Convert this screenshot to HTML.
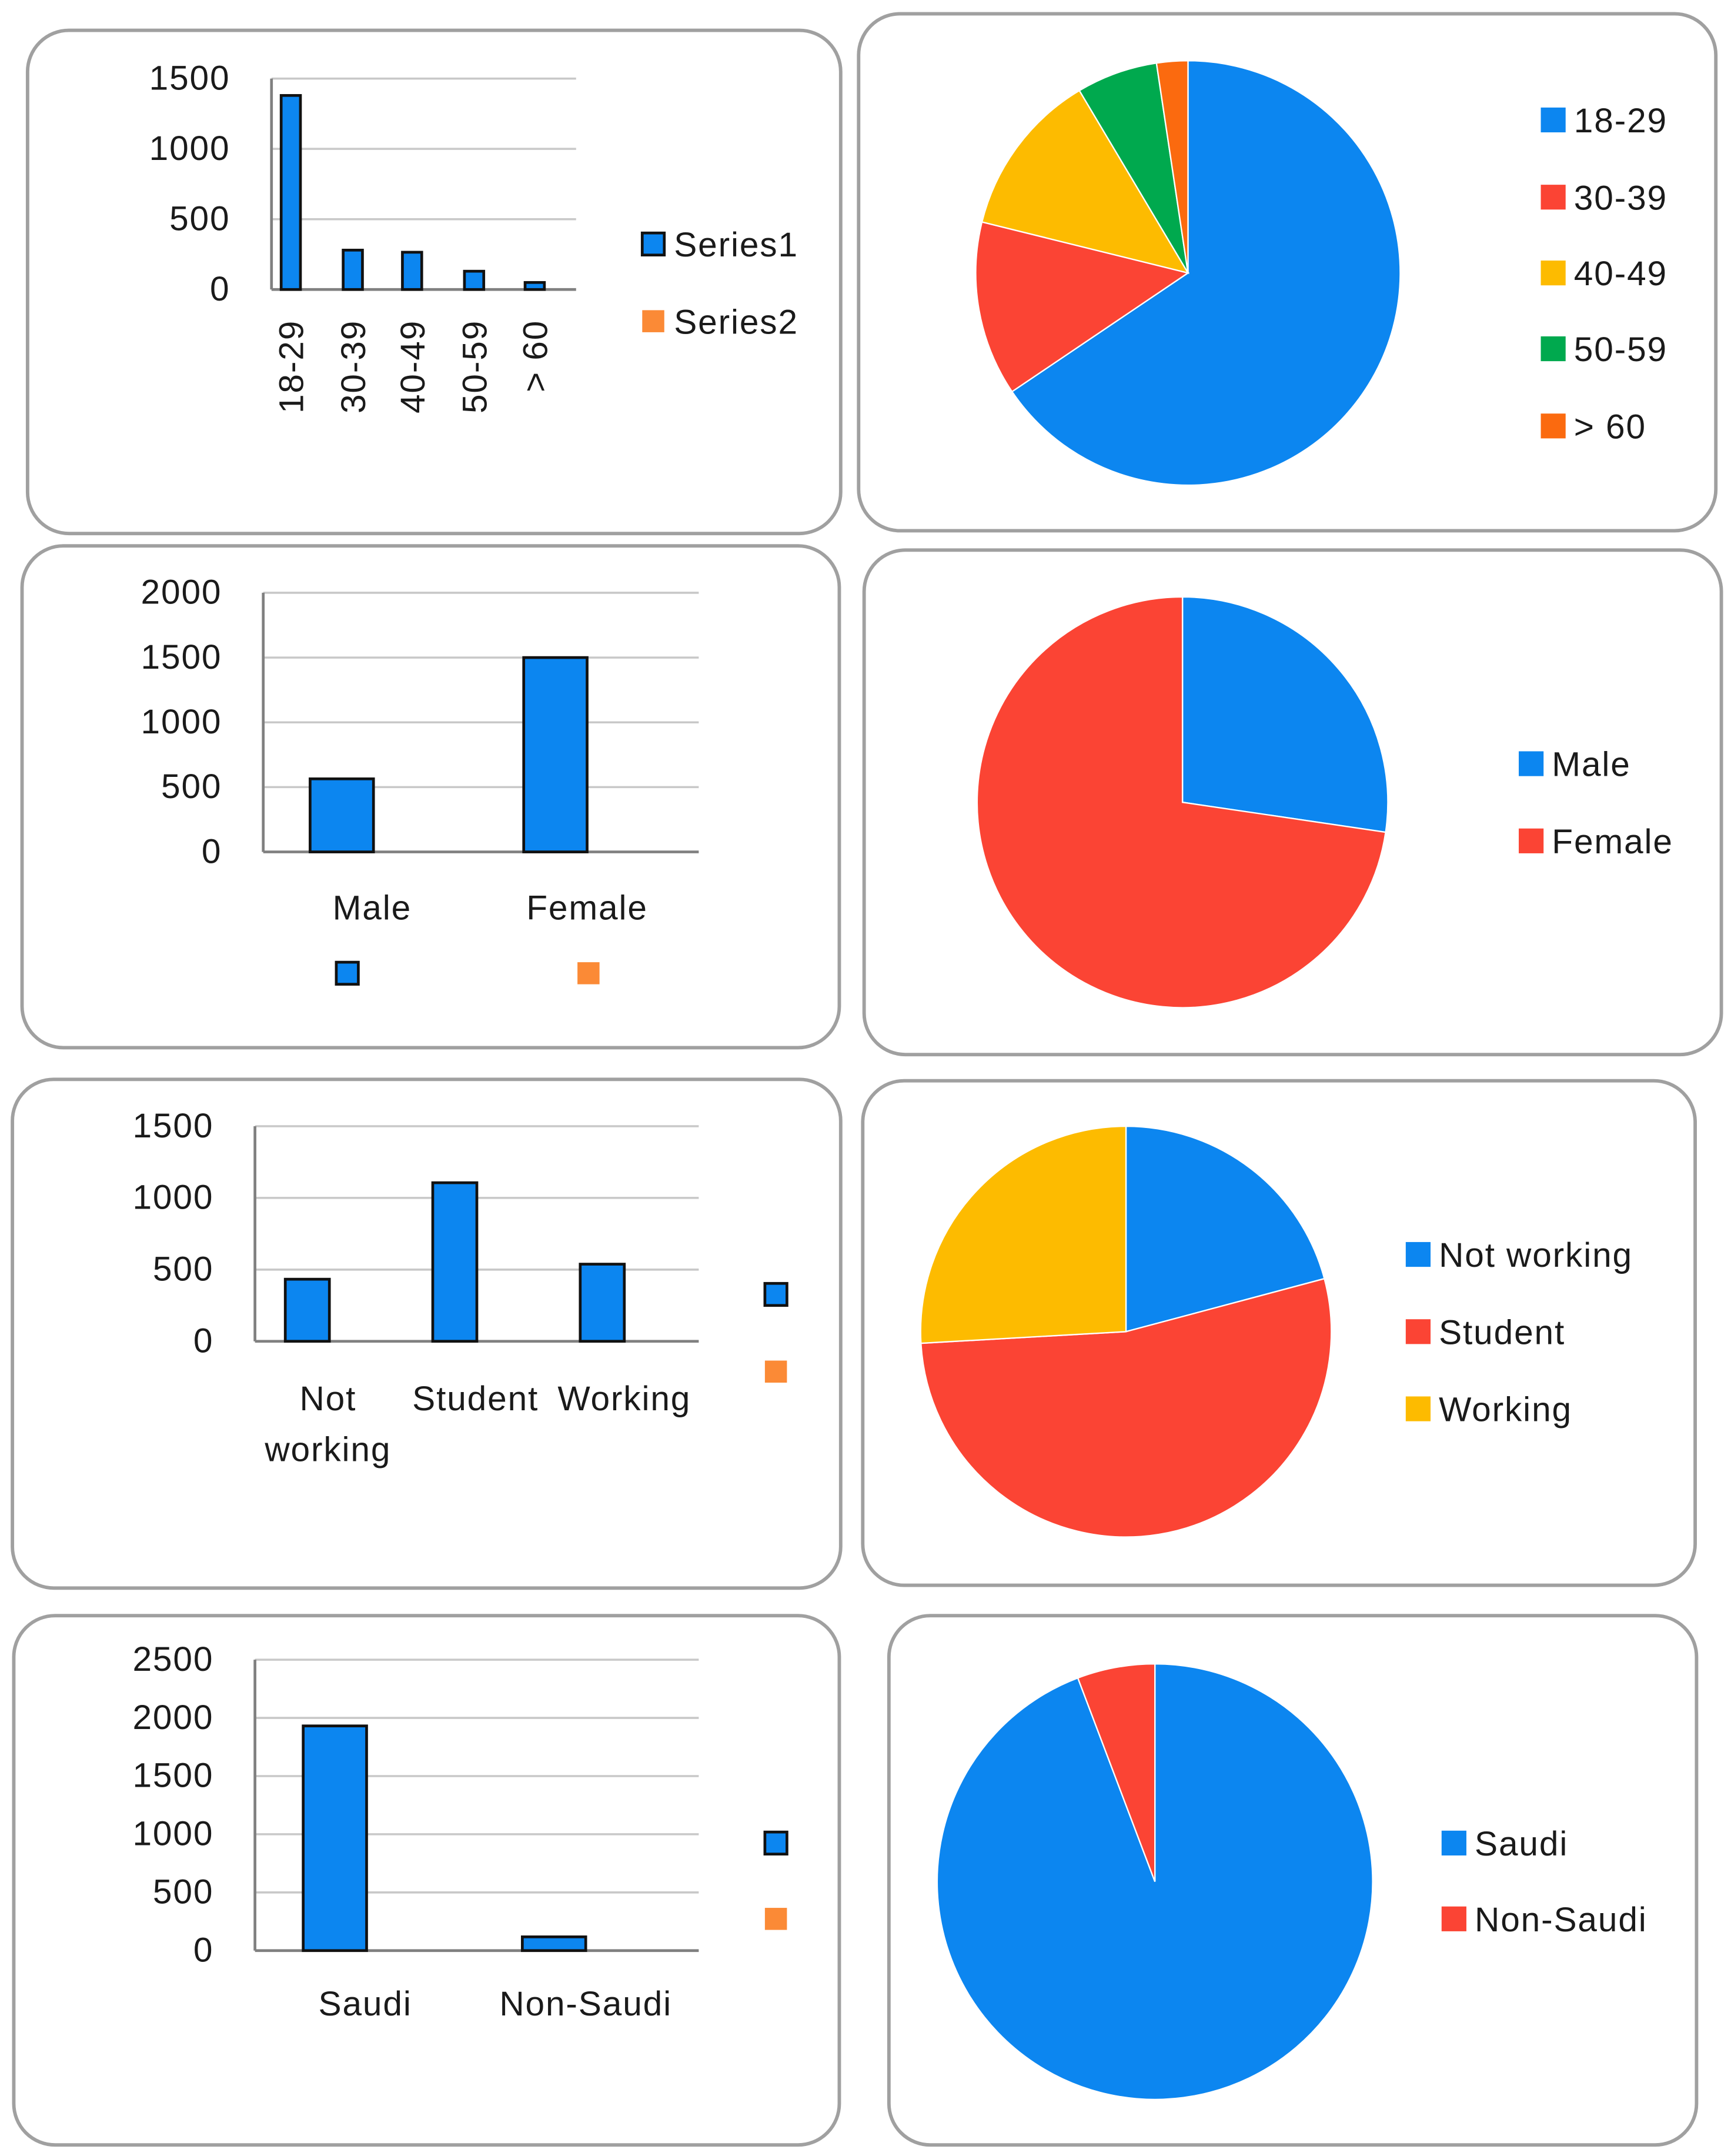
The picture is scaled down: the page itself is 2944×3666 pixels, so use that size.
<!DOCTYPE html>
<html><head><meta charset="utf-8"><style>
html,body{margin:0;padding:0;background:#fff}
svg{display:block}
text{font-family:"Liberation Sans",sans-serif;fill:#1a1a1a;font-size:25px;letter-spacing:0.8px}
</style></head><body>
<svg id="c" width="2944" height="3666" viewBox="0 0 1256 1564" xmlns="http://www.w3.org/2000/svg"></svg>
<script>
// Data arrays
const ageCats = ["18-29","30-39","40-49","50-59","> 60"];
const ageVals = [1380,280,265,130,50];
const genderCats = ["Male","Female"];
const genderVals = [564,1500];
const workCats = ["Not working","Student","Working"];
const workVals = [433,1106,538];
const natCats = ["Saudi","Non-Saudi"];
const natVals = [1931,118];
const ageTicks = [0,500,1000,1500];
const genderTicks = [0,500,1000,1500,2000];
const workTicks = [0,500,1000,1500];
const natTicks = [0,500,1000,1500,2000,2500];

const BLUE="#0c86f0",RED="#fb4434",YEL="#fdbb00",GRN="#00a94e",ORG="#fb6a0f",ORG2="#fb8a36";
const svg=document.getElementById('c');
const NS="http://www.w3.org/2000/svg";
function mk(tag,attrs,parent){const e=document.createElementNS(NS,tag);for(const k in attrs)e.setAttribute(k,attrs[k]);(parent||svg).appendChild(e);return e;}
function txt(s,x,y,anchor,parent){const t=mk('text',{x:x,y:y,'text-anchor':anchor||'start'},parent);t.textContent=s;return t;}

// panels
const panels=[[20,22,590,365],[623,10,622,375],[16,396,593,364],[627,399,622,366],[9,783,601,369],[626,784,604,366],[10,1172,599,384],[645,1172,586,384]];
panels.forEach((p,i)=>{const r=mk('rect',{x:p[0],y:p[1],width:p[2],height:p[3],rx:30,fill:'#fff',stroke:'#a0a0a0','stroke-width':2.5});

});

function barChart(name,cats,vals,ticks,ax,top,bot,right,centers,bw,labelFn){
  const g=mk('g',{});
  
  
  const max=ticks[ticks.length-1];
  const y=v=>bot-(v/max)*(bot-top);
  ticks.forEach(t=>{
    const l=mk('line',{x1:ax,x2:right,y1:y(t),y2:y(t),stroke:t===0?'#808080':'#c8c8c8','stroke-width':t===0?2:1.5},g);
    
    
    const tl=txt(String(t),ax-30,y(t)+8,'end',g);
    
    
  });
  const axl=mk('line',{x1:ax,x2:ax,y1:top,y2:bot,stroke:'#808080','stroke-width':2},g);
  
  
  vals.forEach((v,i)=>{
    const b=mk('rect',{x:centers[i]-bw/2,y:y(v),width:bw,height:bot-y(v),fill:BLUE,stroke:'#111','stroke-width':2},g);
    
    
  });
  labelFn(g);
  return g;
}
function pie(name,cats,vals,colors,cx,cy,r){
  const g=mk('g',{});
  
  
  const tot=vals.reduce((a,b)=>a+b,0);let a0=0;
  vals.forEach((v,i)=>{
    const a1=a0+v/tot*2*Math.PI;
    const x0=cx+r*Math.sin(a0),y0=cy-r*Math.cos(a0),x1=cx+r*Math.sin(a1),y1=cy-r*Math.cos(a1);
    const p=mk('path',{d:`M${cx},${cy}L${x0},${y0}A${r},${r} 0 ${a1-a0>Math.PI?1:0} 1 ${x1},${y1}Z`,fill:colors[i],stroke:'#fff','stroke-width':1},g);
    
    
    a0=a1;
  });
}
function legend(name,cats,colors,x,ys,size){
  const g=mk('g',{});
  
  
  cats.forEach((c,i)=>{
    const s=mk('rect',{x:x,y:ys[i]-9,width:18,height:18,fill:colors[i]},g);
    
    
    const t=txt(c,x+24,ys[i]+9,'start',g);
    
    
  });
}
function marker(x,y,col,outline,g){
  const m=mk('rect',{x:x-8,y:y-8,width:16,height:16,fill:col,stroke:outline?'#111':'none','stroke-width':2},g);
  
  
}

// Chart 1: age bars
barChart('age-bar-chart',ageCats,ageVals,ageTicks,197,57,210,418,[211,256,299,344,388],14,g=>{
  ageCats.forEach((c,i)=>{const t=txt(c,0,0,'end',g);t.setAttribute('transform',`translate(${[211,256,299,344,388][i]+9},232) rotate(-90)`);
  
  });
  marker(474,177,BLUE,true,g);const a=txt('Series1',489,186,'start',g);
  
  
  marker(474,233,ORG2,false,g);const b=txt('Series2',489,242,'start',g);
  
  
});
pie('age-pie-chart',ageCats,ageVals,[BLUE,RED,YEL,GRN,ORG],862,198,154);
legend('age-pie-legend',ageCats,[BLUE,RED,YEL,GRN,ORG],1118,[87,143,198,253,309]);

// Chart 2: gender
barChart('gender-bar-chart',genderCats,genderVals,genderTicks,191,430,618,507,[248,403],46,g=>{
  [[270,'Male'],[426,'Female']].forEach(p=>{const t=txt(p[1],p[0],667,'middle',g);
  
  });
  marker(252,706,BLUE,true,g);marker(427,706,ORG2,false,g);
});
pie('gender-pie-chart',genderCats,genderVals,[BLUE,RED],858,582,149);
legend('gender-pie-legend',genderCats,[BLUE,RED],1102,[554,610]);

// Chart 3: work
barChart('work-bar-chart',workCats,workVals,workTicks,185,817,973,507,[223,330,437],32,g=>{
  [[238,1023,'Not'],[238,1060,'working'],[345,1023,'Student'],[453,1023,'Working']].forEach(p=>{const t=txt(p[2],p[0],p[1],'middle',g);
  
  });
  marker(563,939,BLUE,true,g);marker(563,995,ORG2,false,g);
});
pie('work-pie-chart',workCats,workVals,[BLUE,RED,YEL],817,966,149);
legend('work-pie-legend',workCats,[BLUE,RED,YEL],1020,[910,966,1022]);

// Chart 4: nationality
barChart('nationality-bar-chart',natCats,natVals,natTicks,185,1204,1415,507,[243,402],46,g=>{
  [[265,'Saudi'],[425,'Non-Saudi']].forEach(p=>{const t=txt(p[1],p[0],1462,'middle',g);
  
  });
  marker(563,1337,BLUE,true,g);marker(563,1392,ORG2,false,g);
});
pie('nationality-pie-chart',natCats,natVals,[BLUE,RED],838,1365,158);
legend('nationality-pie-legend',natCats,[BLUE,RED],1046,[1337,1392]);
</script>
</body></html>
